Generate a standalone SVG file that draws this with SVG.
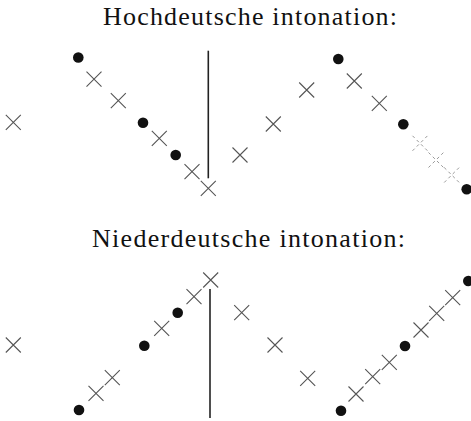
<svg xmlns="http://www.w3.org/2000/svg" width="471" height="421" viewBox="0 0 471 421">
<defs>
<style>
.title{font-family:"Liberation Serif","DejaVu Serif",serif;font-size:26px;fill:#111}
.dot{fill:#111}
.cross{stroke:#555;stroke-width:1.1;fill:none}
.faint{stroke:#999;stroke-width:1;fill:none;stroke-dasharray:3 3}
.bar{stroke:#222;stroke-width:1.6}
</style>
<path id="x" d="M-7.5,-7.5L7.5,7.5M-7.5,7.5L7.5,-7.5"/>
</defs>
<rect width="471" height="421" fill="#fff"/>
<text class="title" x="103" y="25" textLength="294" lengthAdjust="spacing">Hochdeutsche intonation:</text>
<text class="title" x="92" y="247" textLength="313" lengthAdjust="spacing">Niederdeutsche intonation:</text>
<g id="connectors">
<line class="bar" x1="208.3" y1="50.7" x2="208.3" y2="178.3"/>
<line class="bar" x1="210" y1="289" x2="210" y2="418"/>
</g>
<g id="hoch-left">
<circle class="dot" cx="78.3" cy="57.5" r="5.3"/>
<use href="#x" class="cross" x="94" y="79.2"/>
<use href="#x" class="cross" x="118.3" y="100.7"/>
<use href="#x" class="cross" x="13.3" y="122.3"/>
<circle class="dot" cx="143" cy="122.7" r="5.3"/>
<use href="#x" class="cross" x="159.3" y="138.3"/>
<circle class="dot" cx="175.7" cy="155" r="5.3"/>
<use href="#x" class="cross" x="192" y="171.7"/>
<use href="#x" class="cross" x="208.3" y="188.3"/>
</g>
<g id="hoch-right">
<use href="#x" class="cross" x="240" y="155"/>
<use href="#x" class="cross" x="273.3" y="124"/>
<use href="#x" class="cross" x="306.7" y="90"/>
<circle class="dot" cx="338.3" cy="59" r="5.3"/>
<use href="#x" class="cross" x="354.3" y="81"/>
<use href="#x" class="cross" x="379.3" y="103.3"/>
<circle class="dot" cx="403.3" cy="124.3" r="5.3"/>
<use href="#x" class="faint" x="420" y="143.3"/>
<use href="#x" class="faint" x="436" y="160"/>
<use href="#x" class="faint" x="451.7" y="175"/>
<circle class="dot" cx="466.7" cy="189.3" r="5.3"/>
</g>
<g id="nieder-left">
<use href="#x" class="cross" x="13.3" y="345"/>
<circle class="dot" cx="79" cy="410" r="5.3"/>
<use href="#x" class="cross" x="96" y="393.3"/>
<use href="#x" class="cross" x="112.3" y="377.7"/>
<circle class="dot" cx="144.3" cy="345.7" r="5.3"/>
<use href="#x" class="cross" x="161.7" y="328.3"/>
<circle class="dot" cx="177.7" cy="312.7" r="5.3"/>
<use href="#x" class="cross" x="194" y="296.7"/>
<use href="#x" class="cross" x="210.7" y="280"/>
</g>
<g id="nieder-right">
<use href="#x" class="cross" x="241.7" y="312.7"/>
<use href="#x" class="cross" x="275" y="345"/>
<use href="#x" class="cross" x="307.7" y="378.3"/>
<circle class="dot" cx="341" cy="410.7" r="5.3"/>
<use href="#x" class="cross" x="356" y="394"/>
<use href="#x" class="cross" x="372.7" y="376.7"/>
<use href="#x" class="cross" x="389.3" y="362.3"/>
<circle class="dot" cx="405" cy="346" r="5.3"/>
<use href="#x" class="cross" x="421" y="330"/>
<use href="#x" class="cross" x="436.7" y="313.3"/>
<use href="#x" class="cross" x="452.7" y="297.7"/>
<circle class="dot" cx="468.3" cy="281" r="5.3"/>
</g>
</svg>
